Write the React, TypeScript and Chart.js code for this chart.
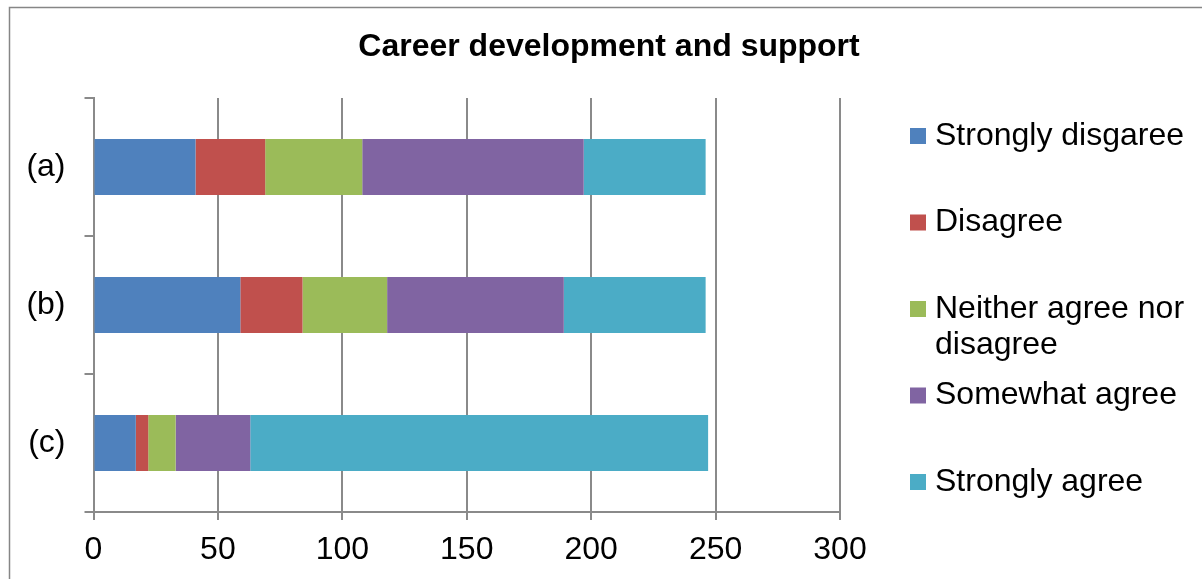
import React, { useEffect, useRef } from "react";
import { Chart, registerables } from "chart.js";

Chart.register(...registerables);

const TITLE = "Career development and support";
const CATEGORIES = ["(a)", "(b)", "(c)"];
const SERIES_NAMES = [
  "Strongly disgaree",
  "Disagree",
  "Neither agree nor disagree",
  "Somewhat agree",
  "Strongly agree",
];
const STRONGLY_DISAGREE = [41, 59, 17];
const DISAGREE = [28, 25, 5];
const NEITHER = [39, 34, 11];
const SOMEWHAT_AGREE = [89, 71, 30];
const STRONGLY_AGREE = [49, 57, 184];
const X_MIN = 0;
const X_MAX = 300;
const X_STEP = 50;

const COLORS = ["#4F81BD", "#C0504D", "#9BBB59", "#8064A2", "#4BACC6"];
const FONT = "'Liberation Sans', Arial, sans-serif";
const GRID = "#8a8a8a";
const FS = 32;

const decorPlugin = {
  id: "decor",
  afterDraw(chart: any) {
    const ctx = chart.ctx;
    ctx.save();
    // outer frame
    ctx.strokeStyle = "#868686";
    ctx.lineWidth = 1.5;
    ctx.strokeRect(9.5, 7.5, 2000, 2000);
    // title
    ctx.fillStyle = "#000";
    ctx.font = `bold ${FS}px ${FONT}`;
    ctx.textAlign = "center";
    ctx.textBaseline = "middle";
    ctx.fillText(TITLE, 609, 47);
    // legend
    ctx.font = `${FS}px ${FONT}`;
    ctx.textAlign = "left";
    const boxX = 910;
    const textX = 935;
    const maxW = chart.width - textX - 4;
    const startY = 136;
    const step = 86.5;
    const lineH = 36;
    chart.data.datasets.forEach((ds: any, i: number) => {
      const cy = startY + i * step;
      ctx.fillStyle = ds.backgroundColor;
      ctx.fillRect(boxX, cy - 8, 16, 16);
      ctx.fillStyle = "#000";
      const words = String(ds.label).split(" ");
      const lines: string[] = [];
      let cur = "";
      words.forEach((w) => {
        const t = cur ? cur + " " + w : w;
        if (ctx.measureText(t).width > maxW && cur) {
          lines.push(cur);
          cur = w;
        } else cur = t;
      });
      if (cur) lines.push(cur);
      lines.forEach((ln, k) => ctx.fillText(ln, textX, cy + k * lineH));
    });
    ctx.restore();
  },
};

export default function App() {
  const ref = useRef<HTMLCanvasElement>(null);
  useEffect(() => {
    if (!ref.current) return;
    const series = [STRONGLY_DISAGREE, DISAGREE, NEITHER, SOMEWHAT_AGREE, STRONGLY_AGREE];
    const chart = new Chart(ref.current, {
      type: "bar",
      data: {
        labels: CATEGORIES,
        datasets: series.map((d, i) => ({
          label: SERIES_NAMES[i],
          data: d,
          backgroundColor: COLORS[i],
          borderWidth: 0,
          categoryPercentage: 1,
          barPercentage: 0.405,
        })),
      },
      options: {
        indexAxis: "y",
        responsive: false,
        animation: false,
        layout: { padding: { left: 0, top: 98, right: 362, bottom: 0 } },
        plugins: {
          legend: { display: false },
          title: { display: false },
          tooltip: { enabled: false },
        },
        scales: {
          x: {
            stacked: true,
            min: X_MIN,
            max: X_MAX,
            afterFit: (s: any) => {
              s.height = 67;
            },
            ticks: {
              stepSize: X_STEP,
              color: "#000",
              padding: 11,
              font: { family: FONT, size: FS },
            },
            grid: { color: GRID, lineWidth: 2, tickLength: 8, drawOnChartArea: true },
            border: { color: GRID, width: 2 },
          },
          y: {
            stacked: true,
            afterFit: (s: any) => {
              s.width = 93.5;
            },
            ticks: {
              color: "#000",
              padding: 19,
              font: { family: FONT, size: FS },
            },
            grid: { color: GRID, lineWidth: 2, tickLength: 9, drawOnChartArea: false },
            border: { color: GRID, width: 2 },
          },
        },
      },
      plugins: [decorPlugin],
    });
    return () => chart.destroy();
  }, []);
  return (
    <div style={{ position: "fixed", left: 0, top: 0, width: 1202, height: 579, background: "#fff" }}>
      <canvas ref={ref} width={1202} height={579} />
    </div>
  );
}
